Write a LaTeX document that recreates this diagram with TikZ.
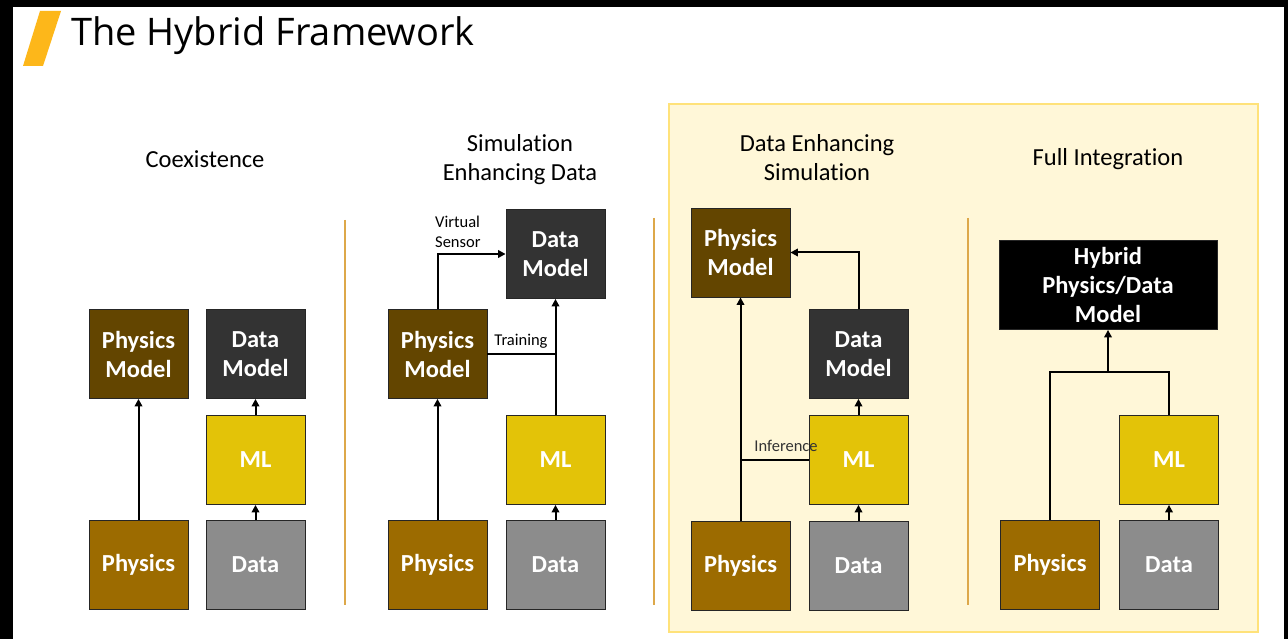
\documentclass[tikz,border=0pt]{standalone}
\usepackage{fontspec}
\setmainfont{Carlito}[Ligatures=NoCommon]
\newfontfamily\titlefont{Open Sans}
\usetikzlibrary{arrows.meta,positioning}
\definecolor{physmodel}{HTML}{634500}
\definecolor{physraw}{HTML}{9C6B00}
\definecolor{datamodel}{HTML}{333333}
\definecolor{mlyellow}{HTML}{E3C308}
\definecolor{dataraw}{HTML}{8C8C8C}
\definecolor{slashgold}{HTML}{FDB71A}
\definecolor{sepgold}{HTML}{DDA84A}
\definecolor{panelfill}{HTML}{FFF7D8}
\definecolor{paneldraw}{HTML}{FFE27A}
\tikzset{
  blockbox/.style={draw=black!85, line width=0.8pt, minimum width=99pt,
                   minimum height=89pt, inner sep=2pt, align=center, text=white,
                   font=\fontsize{24.5}{29}\selectfont\bfseries},
  flowarr/.style={-{Triangle[length=7.5pt,width=7.5pt]}, line width=2pt},
  flowline/.style={line width=2pt},
  headlab/.style={font=\fontsize{24.5}{29}\selectfont, align=center},
  smalllab/.style={font=\fontsize{16.5}{20}\selectfont, align=left, inner sep=0pt},
  seprule/.style={draw=sepgold, line width=1.6pt},
}
\begin{document}
\begin{tikzpicture}[x=1pt,y=-1pt]
\useasboundingbox (0,0) rectangle (1288,639);
\fill[black] (0,0) rectangle (1288,639);
\fill[white] (13,7) rectangle (1284,639);
% title
\fill[slashgold] (40,11) -- (61,11) -- (43,66) -- (23,66) -- cycle;
\node[anchor=west, inner sep=0pt, font=\titlefont\fontsize{38}{42}\selectfont] (title) at (71,36) {The Hybrid Framework};
% highlighted panel
\filldraw[fill=panelfill, draw=paneldraw, line width=1.5pt] (669,104) rectangle (1258,632);
% separators
\draw[seprule] (345,220) -- (345,605);
\draw[seprule] (654,218) -- (654,605);
\draw[seprule] (968,218) -- (968,605);
% headings
\node[headlab] (h1) at (205,159) {Coexistence};
\node[headlab] (h2) at (520,160) {Simulation\\Enhancing Data};
\node[headlab] (h3) at (817,158) {Data Enhancing\\Simulation};
\node[headlab] (h4) at (1108,159) {Full Integration};

% coexistence
\node[blockbox, fill=physmodel] (pm1) at (138.5,354) {Physics\\Model};
\node[blockbox, fill=datamodel] (dm1) at (255.5,354) {Data\\Model};
\node[blockbox, fill=mlyellow] (ml1) at (255.5,460) {ML};
\node[blockbox, fill=physraw] (ph1) at (138.5,565) {Physics};
\node[blockbox, fill=dataraw] (da1) at (255.5,565) {Data};
\draw[flowarr] (ph1) -- (pm1);
\draw[flowarr] (da1) -- (ml1);
\draw[flowarr] (ml1) -- (dm1);

% simulation enhancing data
\node[blockbox, fill=datamodel] (dm2) at (555.5,254) {Data\\Model};
\node[blockbox, fill=physmodel] (pm2) at (437.5,354) {Physics\\Model};
\node[blockbox, fill=mlyellow] (ml2) at (555.5,460) {ML};
\node[blockbox, fill=physraw] (ph2) at (437.5,565) {Physics};
\node[blockbox, fill=dataraw] (da2) at (555.5,565) {Data};
\draw[flowarr] (ph2) -- (pm2);
\draw[flowarr] (da2) -- (ml2);
\draw[flowarr] (ml2) -- (dm2);
\draw[flowline] (pm2.east) -- (ml2.north |- pm2.east);
\node[smalllab, anchor=south] (train) at (521,349) {Training};
\draw[flowarr] (pm2.north) |- (dm2.west);
\node[smalllab, anchor=west] (vsens) at (435,232) {Virtual\\Sensor};

% data enhancing simulation
\node[blockbox, fill=physmodel] (pm3) at (740.5,252.5) {Physics\\Model};
\node[blockbox, fill=datamodel] (dm3) at (858.5,354) {Data\\Model};
\node[blockbox, fill=mlyellow] (ml3) at (858.5,460) {ML};
\node[blockbox, fill=physraw] (ph3) at (740.5,566) {Physics};
\node[blockbox, fill=dataraw] (da3) at (858.5,566) {Data};
\draw[flowarr] (ph3) -- (pm3);
\draw[flowarr] (da3) -- (ml3);
\draw[flowarr] (ml3) -- (dm3);
\draw[flowline] (ml3.west) -- (ph3.north |- ml3.west);
\draw[flowarr] (dm3.north) |- (pm3.east);
\node[smalllab, text=black!80] (infer) at (786,446) {Inference};

% full integration
\node[blockbox, fill=black, minimum width=218pt] (hy) at (1108,285) {Hybrid\\Physics/Data\\Model};
\node[blockbox, fill=mlyellow] (ml4) at (1169,460) {ML};
\node[blockbox, fill=physraw] (ph4) at (1050,565) {Physics};
\node[blockbox, fill=dataraw] (da4) at (1169,565) {Data};
\coordinate (join) at (1108,372);
\draw[flowarr] (da4) -- (ml4);
\draw[flowline] (ph4.north) |- (join) -| (ml4.north);
\draw[flowarr] (join) -- (hy.south);
\end{tikzpicture}
\end{document}
